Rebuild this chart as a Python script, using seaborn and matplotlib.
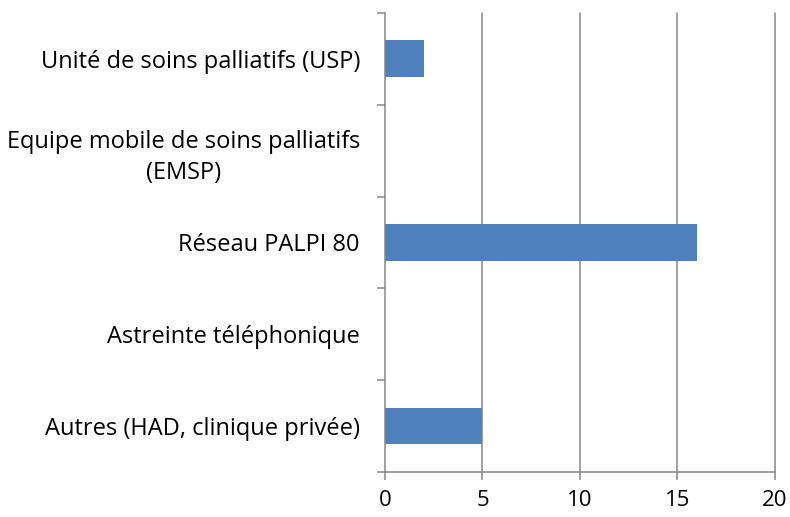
import matplotlib
matplotlib.use("Agg")
import matplotlib.pyplot as plt
import seaborn as sns
import pandas as pd
import numpy as np

# data
categories = [
    "Unité de soins palliatifs (USP)",
    "Equipe mobile de soins palliatifs\n(EMSP)",
    "Réseau PALPI 80",
    "Astreinte téléphonique",
    "Autres (HAD, clinique privée)",
]
values = [2, 0, 16, 0, 5]
x_ticks = [0, 5, 10, 15, 20]

df = pd.DataFrame({"categorie": categories, "valeur": values})

sns.set_theme(style="white")
plt.rcParams["font.family"] = ["Open Sans", "DejaVu Sans"]

fig = plt.figure(figsize=(7.9, 5.17), dpi=100)
ax = fig.add_axes([0.4873, 0.087, 0.4937, 0.888])

sns.barplot(data=df, x="valeur", y="categorie", orient="h", color="#4F81BD",
            saturation=1, width=0.4, linewidth=0, ax=ax)

grid_color = "#868686"
ax.set_xlim(0, 20)
ax.set_ylim(len(categories) - 0.5, -0.5)
ax.set_xticks(x_ticks)
ax.set_xticklabels([str(t) for t in x_ticks], fontsize=16, color="black")
for t in x_ticks[1:]:
    ax.axvline(t, color=grid_color, linewidth=1.1, zorder=0, clip_on=False)

# category labels, tick marks between categories
ax.set_yticks(range(len(categories)))
ax.set_yticklabels(categories, fontsize=17, color="black",
                   multialignment="center", linespacing=1.4)
ax.set_yticks(np.arange(-0.5, len(categories)), minor=True)
ax.tick_params(axis="y", which="major", length=0, pad=18)
ax.tick_params(axis="y", which="minor", length=6, width=1.1, color=grid_color, left=True)
ax.tick_params(axis="x", which="major", length=6, width=1.1, color=grid_color, bottom=True, pad=7)
ax.set_xlabel("")
ax.set_ylabel("")

for side in ["top", "right"]:
    ax.spines[side].set_visible(False)
for side in ["left", "bottom"]:
    ax.spines[side].set_color(grid_color)
    ax.spines[side].set_linewidth(1.1)

fig.savefig("out.png", dpi=100)
